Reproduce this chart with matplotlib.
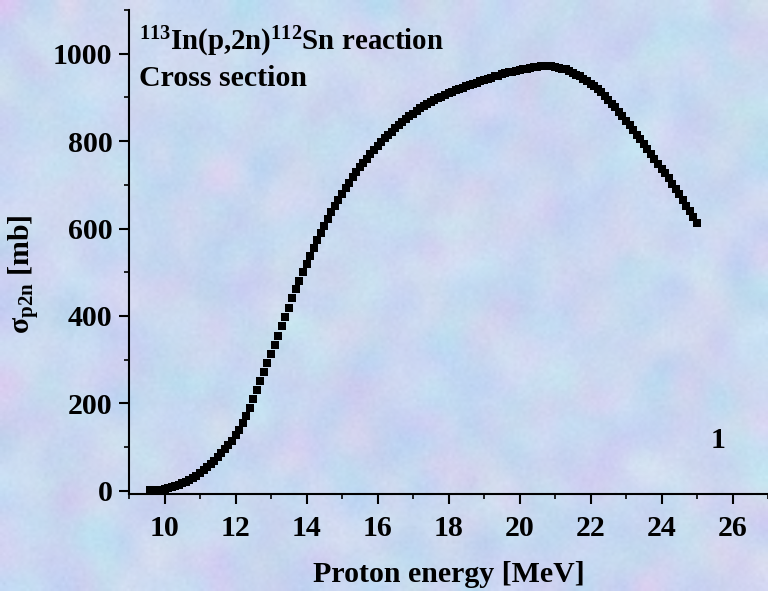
import numpy as np
import matplotlib
matplotlib.use('Agg')
import matplotlib.pyplot as plt
from matplotlib.ticker import MultipleLocator

plt.rcParams['font.family'] = ['Liberation Serif', 'DejaVu Serif']
plt.rcParams['font.weight'] = 'bold'
plt.rcParams['mathtext.fontset'] = 'custom'
plt.rcParams['mathtext.rm'] = 'Liberation Serif:bold'
plt.rcParams['mathtext.bf'] = 'Liberation Serif:bold'
plt.rcParams['mathtext.it'] = 'Liberation Serif:bold:italic'

# proton energy [MeV], 0.1 MeV steps
energy = np.round(np.arange(9.6, 25.05, 0.1), 1)

# cross section [mb]
sigma = [
    1, 1, 2, 3, 4, 6, 8, 11, 14, 17,
    21, 25, 29, 34, 40, 47, 54, 61, 69, 77,
    86, 95, 105, 115, 127, 140, 155, 171, 190, 210,
    231, 251, 272, 293, 314, 334, 355, 376, 397, 418,
    440, 461, 481, 500, 519, 537, 555, 573, 590, 606,
    622, 637, 652, 666, 680, 693, 705, 717, 729, 740,
    750, 760, 770, 780, 789, 798, 806, 814, 822, 830,
    837, 844, 851, 857, 863, 869, 875, 880, 885, 890,
    894, 898, 902, 906, 910, 913, 916, 919, 922, 925,
    928, 931, 934, 937, 940, 943, 945, 948, 950, 953,
    955, 957, 959, 961, 963, 965, 966, 968, 969, 970,
    971, 972, 972, 971, 969, 968, 966, 964, 960, 956,
    952, 948, 943, 937, 931, 925, 919, 912, 904, 895,
    886, 877, 867, 857, 847, 837, 826, 815, 804, 793,
    782, 771, 760, 748, 737, 726, 715, 703, 691, 679,
    666, 652, 639, 626, 613,
]

xticks = [10, 12, 14, 16, 18, 20, 22, 24, 26]
yticks = [0, 200, 400, 600, 800, 1000]

FS = 21.5

fig = plt.figure(figsize=(7.68, 5.91), dpi=100)

# textured pastel background
rng = np.random.default_rng(3)
coarse = rng.normal(size=(30, 40, 3))
bg_ax = fig.add_axes([0, 0, 1, 1])
bg_ax.axis('off')
base = np.array([0.81, 0.87, 0.97])
tex = base + 0.04 * coarse * np.array([1.0, 0.8, 0.3])
bg_ax.imshow(np.clip(tex, 0, 1), aspect='auto', interpolation='bicubic',
             extent=[0, 1, 0, 1])
fine = rng.normal(size=(200, 260))
bg_ax.imshow(fine, aspect='auto', interpolation='bilinear', cmap='gray',
             alpha=0.06, extent=[0, 1, 0, 1])

ax = fig.add_axes([0.168, 0.1636, 0.832, 0.8195])
ax.patch.set_alpha(0)

ax.plot(energy, sigma, 's', color='black', markersize=5.6, markeredgewidth=0)

ax.set_xlim(9.0, 27.0)
ax.set_ylim(-8, 1100)
ax.set_xticks(xticks)
ax.set_yticks(yticks)
ax.xaxis.set_minor_locator(MultipleLocator(1))
ax.yaxis.set_minor_locator(MultipleLocator(100))

for side in ['top', 'right']:
    ax.spines[side].set_visible(False)
for side in ['left', 'bottom']:
    ax.spines[side].set_linewidth(1.5)

ax.tick_params(axis='x', which='major', pad=8)
ax.tick_params(axis='y', which='major', pad=5)
ax.tick_params(which='major', direction='out', length=7, width=1.5,
               labelsize=FS)
ax.tick_params(which='minor', direction='out', length=3.5, width=1.2)
for lab in ax.get_xticklabels() + ax.get_yticklabels():
    lab.set_fontweight('bold')

ax.set_xlabel('Proton energy [MeV]', fontsize=FS, fontweight='bold')
ax.xaxis.set_label_coords(0.5, -0.165)
ax.xaxis.label.set_va('center')
ax.set_ylabel('σ$_{\\mathrm{p2n}}$ [mb]', fontsize=FS, fontweight='bold')
ax.yaxis.set_label_coords(-0.163, 0.455)
ax.yaxis.label.set_va('center')

ax.text(0.0156, 0.917, r'$^{113}\mathrm{In(p{,}2n)}^{112}\mathrm{Sn\ reaction}$',
        transform=ax.transAxes, fontsize=20.8, ha='left', va='baseline')
ax.text(0.0156, 0.843, 'Cross section', transform=ax.transAxes,
        fontsize=FS, fontweight='bold', ha='left', va='baseline')
ax.text(25.6, 116, '1', fontsize=FS, fontweight='bold', ha='center', va='center')

fig.savefig('out.png', dpi=100)
